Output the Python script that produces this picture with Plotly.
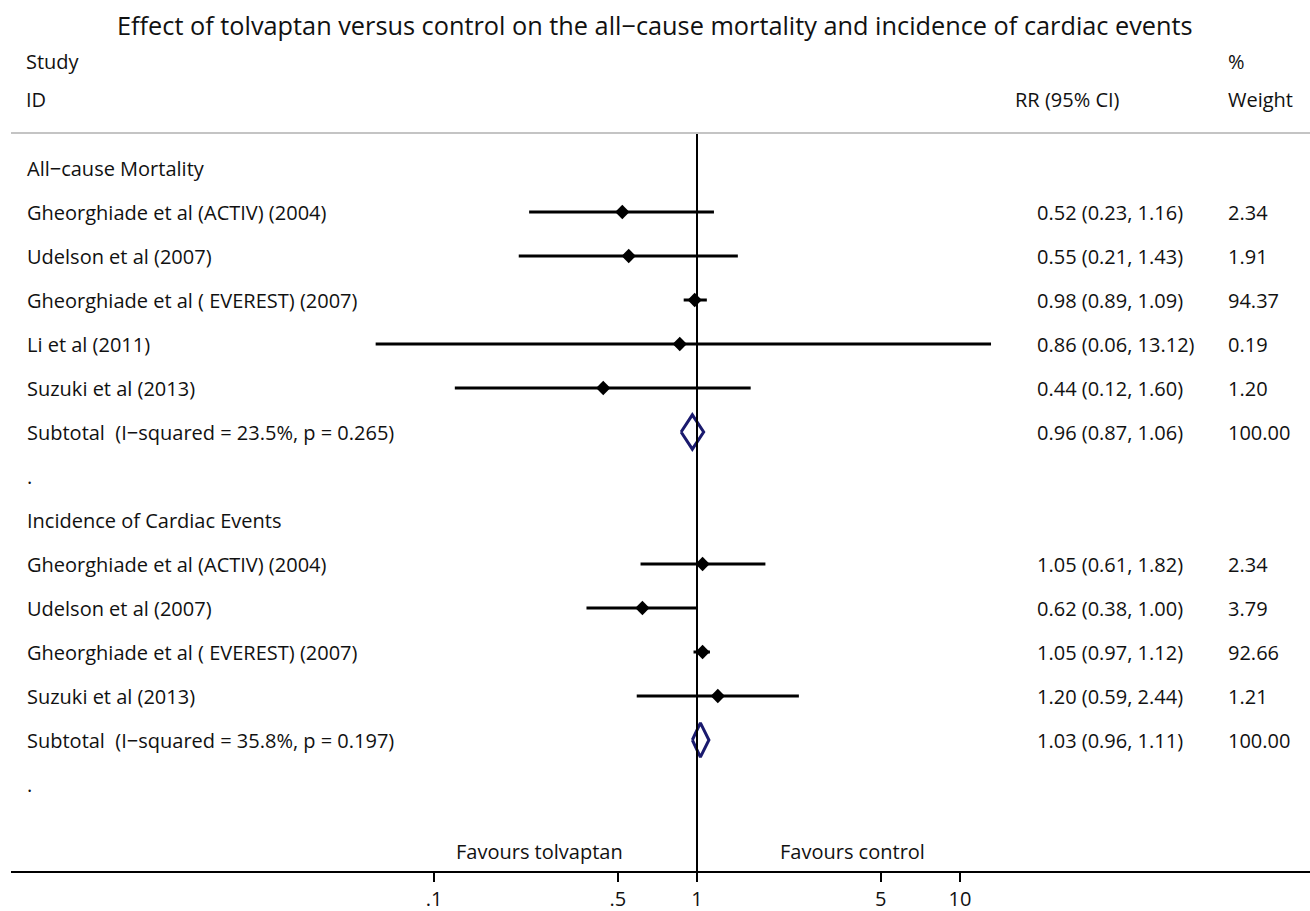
import plotly.graph_objects as go

# ---------------- data ----------------
group_titles = ["All\u2212cause Mortality", "Incidence of Cardiac Events"]

mort_studies = ["Gheorghiade et al (ACTIV) (2004)", "Udelson et al (2007)",
                "Gheorghiade et al ( EVEREST) (2007)", "Li et al (2011)", "Suzuki et al (2013)"]
mort_rr = [0.52, 0.55, 0.98, 0.86, 0.44]
mort_lo = [0.23, 0.21, 0.89, 0.06, 0.12]
mort_hi = [1.16, 1.43, 1.09, 13.12, 1.60]
mort_w = [2.34, 1.91, 94.37, 0.19, 1.20]
mort_sub = [0.96, 0.87, 1.06, 100.00]
mort_sub_label = "Subtotal  (I\u2212squared = 23.5%, p = 0.265)"

card_studies = ["Gheorghiade et al (ACTIV) (2004)", "Udelson et al (2007)",
                "Gheorghiade et al ( EVEREST) (2007)", "Suzuki et al (2013)"]
card_rr = [1.05, 0.62, 1.05, 1.20]
card_lo = [0.61, 0.38, 0.97, 0.59]
card_hi = [1.82, 1.00, 1.12, 2.44]
card_w = [2.34, 3.79, 92.66, 1.21]
card_sub = [1.03, 0.96, 1.11, 100.00]
card_sub_label = "Subtotal  (I\u2212squared = 35.8%, p = 0.197)"

tick_vals = [0.1, 0.5, 1, 5, 10]
tick_text = [".1", ".5", "1", "5", "10"]

title_text = ("Effect of tolvaptan versus control on the all\u2212cause mortality "
              "and incidence of cardiac events")

# ---------------- layout helpers ----------------
W, H = 1310, 911
ML, MB = 11, 40
PW, PH = W - ML, H - MB
ROW0, ROWH = 168, 44


def xp(px):
    return (px - 2 - ML) / PW


def row_of(py):
    return (py - ROW0) / ROWH


FONT = "Open Sans"
FS = 20
TXT = "#111111"
NAVY = "#1a1a6e"

fig = go.Figure()
ann = []


def add_text(px, row, text, size=FS):
    ann.append(dict(x=xp(px), xref="paper", y=row, yref="y", text=text,
                    showarrow=False, xanchor="left", yanchor="middle",
                    font=dict(family=FONT, size=size, color=TXT)))


def add_group(start_row, gtitle, names, rr, lo, hi, w, sub, sublabel):
    add_text(27, start_row, gtitle)
    for k, name in enumerate(names):
        r = start_row + 1 + k
        fig.add_trace(go.Scatter(x=[lo[k], hi[k]], y=[r, r], mode="lines",
                                 line=dict(color="black", width=3),
                                 hoverinfo="skip", showlegend=False))
        fig.add_trace(go.Scatter(x=[rr[k]], y=[r], mode="markers",
                                 marker=dict(symbol="diamond", size=11, color="black"),
                                 showlegend=False))
        add_text(27, r, name)
        add_text(1037, r, f"{rr[k]:.2f} ({lo[k]:.2f}, {hi[k]:.2f})")
        add_text(1228, r, f"{w[k]:.2f}")
    rs = start_row + 1 + len(names)
    est, l, h, ww = sub
    fig.add_trace(go.Scatter(x=[l, est, h, est, l], y=[rs, rs - 0.39, rs, rs + 0.39, rs],
                             mode="lines", line=dict(color=NAVY, width=3),
                             showlegend=False, hoverinfo="skip"))
    add_text(27, rs, sublabel)
    add_text(1037, rs, f"{est:.2f} ({l:.2f}, {h:.2f})")
    add_text(1228, rs, f"{ww:.2f}")
    add_text(27, rs + 1, ".")
    return rs + 2


nxt = add_group(0, group_titles[0], mort_studies, mort_rr, mort_lo, mort_hi, mort_w,
                mort_sub, mort_sub_label)
add_group(nxt, group_titles[1], card_studies, card_rr, card_lo, card_hi, card_w,
          card_sub, card_sub_label)

y_top = row_of(0)
y_bot = row_of(PH)
y_gray = row_of(133)

# reference line at RR = 1
fig.add_trace(go.Scatter(x=[1, 1], y=[y_gray, y_bot], mode="lines",
                         line=dict(color="black", width=2), showlegend=False,
                         hoverinfo="skip"))

# header texts
add_text(26, row_of(61), "Study")
add_text(26, row_of(99), "ID")
add_text(1015, row_of(99), "RR (95% CI)")
add_text(1228, row_of(61), "%")
add_text(1228, row_of(99), "Weight")

# favours labels
for cx, t in [(541, "Favours tolvaptan"), (854, "Favours control")]:
    ann.append(dict(x=xp(cx), xref="paper", y=row_of(851), yref="y", text=t,
                    showarrow=False, xanchor="center", yanchor="middle",
                    font=dict(family=FONT, size=FS, color=TXT)))

# title
ann.append(dict(x=xp(657), xref="paper", y=row_of(25), yref="y", text=title_text,
                showarrow=False, xanchor="center", yanchor="middle",
                font=dict(family=FONT, size=25.3, color=TXT)))

fig.update_layout(
    width=W, height=H,
    margin=dict(l=ML, r=0, t=0, b=MB),
    paper_bgcolor="white", plot_bgcolor="white",
    showlegend=False,
    annotations=ann,
    shapes=[dict(type="line", xref="paper", x0=0, x1=1, yref="y", y0=y_gray, y1=y_gray,
                 line=dict(color="#c4c4c4", width=2))],
    xaxis=dict(type="log", range=[(ML - 697) / 263, (W - 697) / 263],
               tickvals=tick_vals, ticktext=tick_text,
               showline=True, linecolor="black", linewidth=2,
               ticks="outside", ticklen=9, tickwidth=2, tickcolor="black",
               showgrid=False, zeroline=False, automargin=False,
               tickfont=dict(family=FONT, size=FS, color=TXT)),
    yaxis=dict(range=[y_bot, y_top], visible=False, showgrid=False, zeroline=False),
)

fig.write_html("out.html", config={"displayModeBar": False},
               post_script="document.body.style.margin='0';")
